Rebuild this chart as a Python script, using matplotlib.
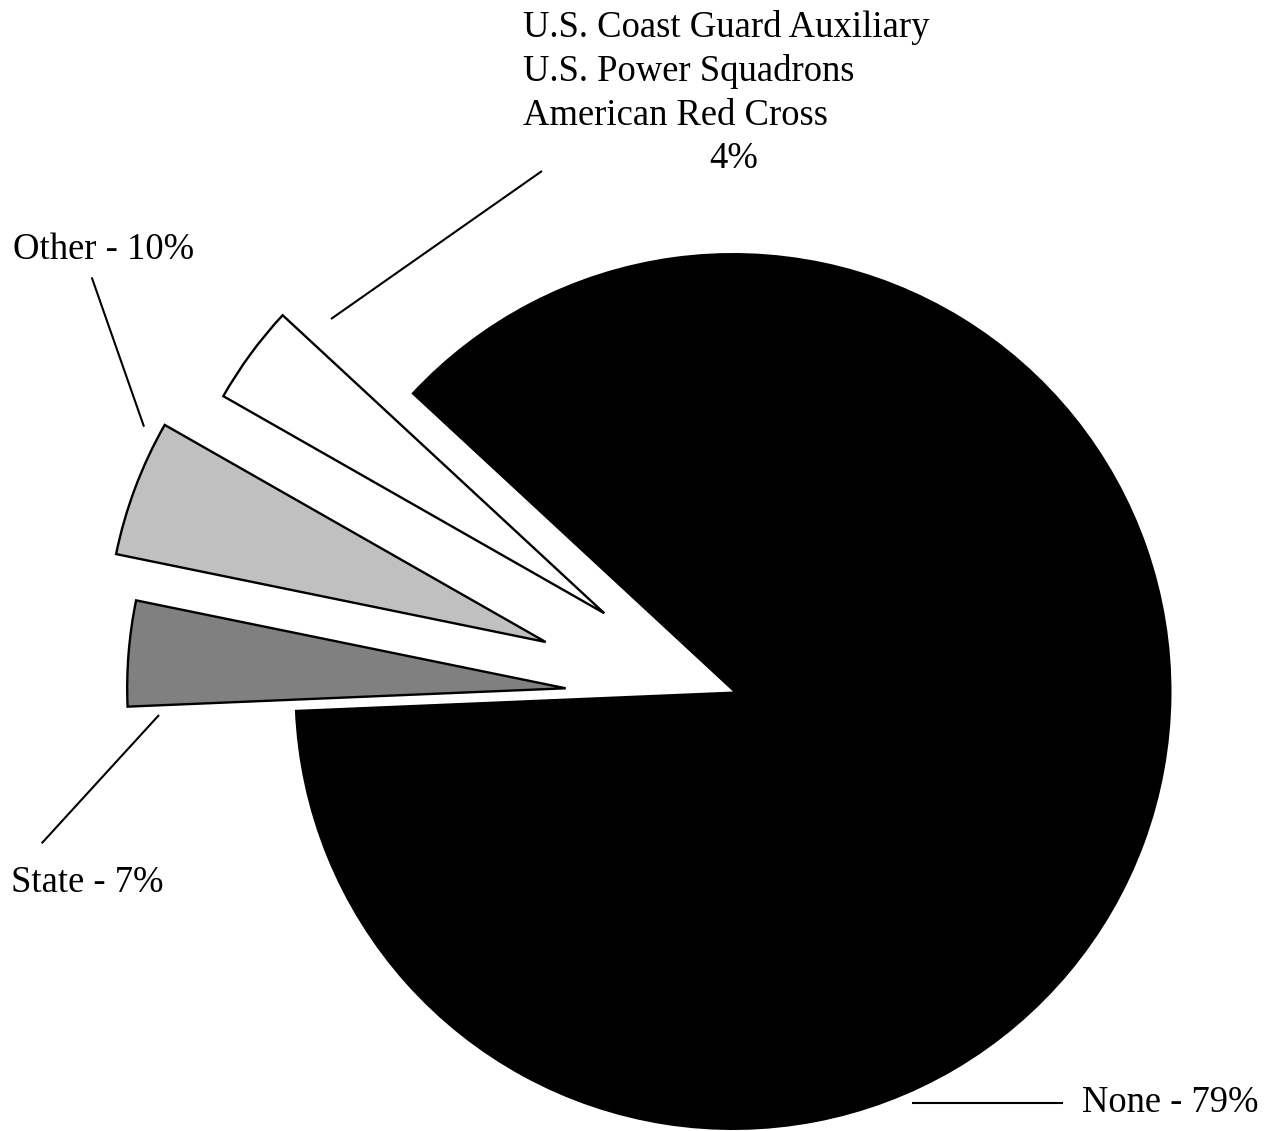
import matplotlib
matplotlib.use('Agg')
import numpy as np
import matplotlib.pyplot as plt


# slice shares as drawn in the picture (ccw from the "None" slice)
CATEGORIES = ['None', 'U.S. Coast Guard Auxiliary', 'Other', 'State']
SHARES = [87.44, 3.65, 5.03, 3.88]
LABEL_PERCENTS = [79, 4, 10, 7]
COLORS = ['#000000', '#ffffff', '#c0c0c0', '#808080']

TOP_LABEL_LINES = ['U.S. Coast Guard Auxiliary', 'U.S. Power Squadrons', 'American Red Cross']

# how far each slice is pulled out (fraction of radius) and in which direction (deg)
EXPLODE = [0.0, 0.3435, 0.4418, 0.3816]
EXPLODE_DIR = [0.0, 148.7, 165.2, 178.9]

FONT = 'Liberation Serif'
FS = 26.4


def main():
    fig = plt.figure(figsize=(12.74, 11.31), dpi=100)
    ax = fig.add_axes([0, 0, 1, 1])

    wedges, _ = ax.pie(SHARES, colors=COLORS, startangle=182.4, counterclock=True,
                       radius=1.0, wedgeprops=dict(linewidth=1.7, edgecolor='black'))
    wedges[0].set_linewidth(0)

    for w, d, ang in zip(wedges, EXPLODE, EXPLODE_DIR):
        a = np.deg2rad(ang)
        w.set_center((d * np.cos(a), d * np.sin(a)))

    # pixel layout: centre of the big slice at (733, 691.5), radius 438.5 px
    r = 438.5
    ax.set_xlim(-733 / r, (1274 - 733) / r)
    ax.set_ylim(-(1131 - 691.5) / r, 691.5 / r)
    ax.set_aspect('auto')
    ax.axis('off')

    leader = dict(color='black', linewidth=1.5, solid_capstyle='butt')
    ax.plot([-0.9168, -0.4356], [0.8495, 1.1870], **leader)
    ax.plot([-1.4625, -1.3432], [0.9446, 0.6039], **leader)
    ax.plot([-1.3090, -1.5765], [-0.0536, -0.3462], **leader)
    ax.plot([0.4075, 0.7519], [-0.9377, -0.9377], **leader)

    txt = dict(fontsize=FS, family=FONT, va='baseline')
    ax.text(0.7952, -0.9583, f'{CATEGORIES[0]} - {LABEL_PERCENTS[0]}%', ha='left', **txt)
    ax.text(-1.6412, 0.9856, f'{CATEGORIES[2]} - {LABEL_PERCENTS[2]}%', ha='left', **txt)
    ax.text(-1.6465, -0.4566, f'{CATEGORIES[3]} - {LABEL_PERCENTS[3]}%', ha='left', **txt)

    baselines = [36.7, 81.0, 125.0]
    for line, b in zip(TOP_LABEL_LINES, baselines):
        ax.text(-0.4796, (691.5 - b) / r, line, ha='left', **txt)
    ax.text(0.0023, (691.5 - 168.3) / r, f'{LABEL_PERCENTS[1]}%', ha='center', **txt)

    fig.savefig('out.png', dpi=100, facecolor='white')


if __name__ == '__main__':
    main()
